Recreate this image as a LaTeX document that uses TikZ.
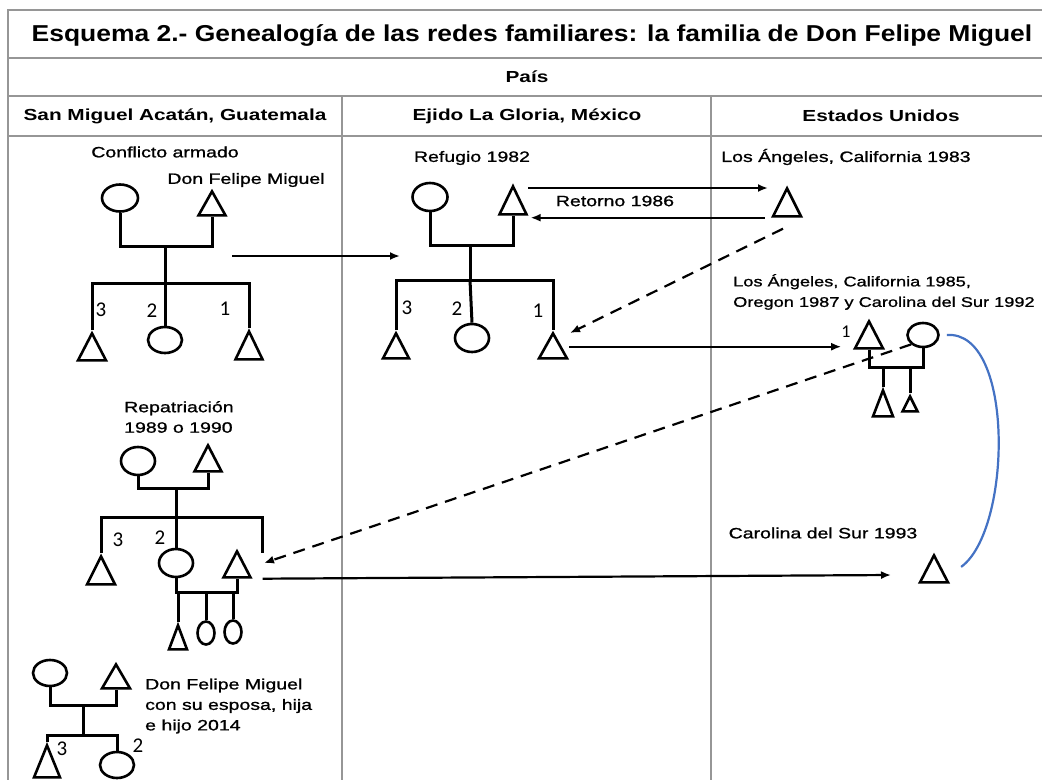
\documentclass[tikz,border=0pt]{standalone}
\usepackage{fontspec}
\setmainfont{Liberation Sans}
\newfontfamily\bodyfont{Liberation Sans}[FakeStretch=1.3, FakeBold=1]
\newfontfamily\headfont{Liberation Sans}[FakeStretch=1.3]
\newfontfamily\titlefont{Liberation Sans}[FakeStretch=1.15]
\newfontfamily\numfont{Carlito}
\usetikzlibrary{shapes.geometric,arrows.meta}
\definecolor{tablegray}{RGB}{150,150,150}
\definecolor{linkblue}{RGB}{68,114,196}

\begin{document}
\begin{tikzpicture}[x=1pt, y=-1pt,
    tabline/.style = {draw=tablegray, line width=1.6pt},
    fem/.style = {ellipse, draw, line width=2.6pt, inner sep=0pt},
    masc/.style = {isosceles triangle, isosceles triangle stretches,
                   shape border rotate=90, draw, line width=2.6pt,
                   inner sep=0pt, anchor=apex},
    kin/.style = {line width=3pt},
    txt/.style = {inner sep=0pt, text=black,
                  font=\bodyfont\fontsize{15}{20.5}\selectfont},
    head/.style = {inner sep=0pt, font=\headfont\bfseries\fontsize{16}{19}\selectfont},
    num/.style = {inner sep=0pt, font=\numfont\fontsize{21}{24}\selectfont},
    mov/.style = {-{Latex[length=10pt,width=8pt]}, line width=2.2pt},
    mig/.style = {mov, dash pattern=on 12pt off 8pt}]

  \useasboundingbox (0,0) rectangle (1042,780);
  \fill[white] (0,0) rectangle (1042,780);

  % table
  \draw[tabline] (1042,10) -- (8,10) -- (8,780);
  \draw[tabline] (8,58) -- (1042,58);
  \draw[tabline] (8,96) -- (1042,96);
  \draw[tabline] (8,136) -- (1042,136);
  \draw[tabline] (342,96) -- (342,780);
  \draw[tabline] (711,96) -- (711,780);

  \node[inner sep=0pt, font=\titlefont\bfseries\fontsize{23}{26}\selectfont] (title) at (532,35)
    {Esquema 2.- Genealogía de las redes familiares: la familia de Don Felipe Miguel};
  \node[head] (pais) at (527,77) {País};
  \node[head] (h-gt) at (175,116) {San Miguel Acatán, Guatemala};
  \node[head] (h-mx) at (527,116) {Ejido La Gloria, México};
  \node[head] (h-us) at (881,116) {Estados Unidos};

  % San Miguel Acatan, conflicto armado
  \node[txt] (t-conf) at (165,152) {Conflicto armado};
  \node[fem, minimum width=36, minimum height=27] (A-m) at (120,198) {};
  \node[masc, minimum width=27, minimum height=24] (A-f) at (212,188) {};
  \node[txt] (t-don) at (246,180) {Don Felipe Miguel};
  \node[masc, minimum width=28, minimum height=27] (A-3) at (92,330) {};
  \node[fem, minimum width=34, minimum height=26] (A-2) at (165,340) {};
  \node[masc, minimum width=27, minimum height=28] (A-1) at (249,328) {};
  \node[num] (A-n3) at (101,310) {3};
  \node[num] (A-n2) at (152,311) {2};
  \node[num] (A-n1) at (225,309) {1};
  \coordinate (A-c) at (165,246);
  \coordinate (A-k) at (165,283);
  \draw[kin] (A-m.south) |- (A-c) -| (A-f.lower side);
  \draw[kin] (A-c) -- (A-k);
  \draw[kin] (A-3.apex) |- (A-k) -| (A-1.apex);
  \draw[kin] (A-k) -- (A-2.north);

  % Ejido La Gloria, refugio
  \node[txt] (t-ref) at (472,158) {Refugio 1982};
  \node[fem, minimum width=35, minimum height=28] (B-m) at (430,197) {};
  \node[masc, minimum width=27, minimum height=28] (B-f) at (513,183) {};
  \node[masc, minimum width=26, minimum height=25] (B-3) at (396,330) {};
  \node[fem, minimum width=34, minimum height=28] (B-2) at (472,338) {};
  \node[masc, minimum width=28, minimum height=25] (B-1) at (553,330) {};
  \node[num] (B-n3) at (407,308) {3};
  \node[num] (B-n2) at (457,309) {2};
  \node[num] (B-n1) at (538,311) {1};
  \coordinate (B-c) at (470,245);
  \coordinate (B-k) at (470,280);
  \draw[kin] (B-m.south) |- (B-c) -| (B-f.lower side);
  \draw[kin] (B-c) -- (B-k);
  \draw[kin] (B-3.apex) |- (B-k) -| (B-1.apex);
  \draw[kin] (B-k) -- (B-2.north);

  % Estados Unidos
  \node[txt] (t-la83) at (846,157) {Los Ángeles, California 1983};
  \node[masc, minimum width=28, minimum height=28] (L-f) at (787,185) {};
  \node[txt] (t-ret) at (615,201) {Retorno 1986};
  \node[txt, anchor=west, align=left, font=\bodyfont\fontsize{14}{20.5}\selectfont] (t-la85) at (733,292)
    {Los Ángeles, California 1985,\\Oregon 1987 y Carolina del Sur 1992};
  \node[masc, minimum width=28, minimum height=27] (U-s) at (869,318) {};
  \node[num, font=\numfont\fontsize{18}{20}\selectfont] (U-n1) at (846,332) {1};
  \node[fem, minimum width=31, minimum height=24] (U-w) at (923,335) {};
  \node[masc, minimum width=20, minimum height=26] (U-c1) at (883,387) {};
  \node[masc, minimum width=15, minimum height=15] (U-c2) at (910,393) {};
  \coordinate (U-c) at (896,367);
  \draw[kin] (U-s.lower side) |- (U-c) -| (U-w.south);
  \draw[kin] (U-c1.apex) -- (U-c1.apex |- U-c);
  \draw[kin] (U-c2.apex) -- (U-c2.apex |- U-c);
  \node[txt] (t-cs93) at (823,533) {Carolina del Sur 1993};
  \node[masc, minimum width=28, minimum height=27] (K-f) at (934,552) {};
  \coordinate (K-in) at (891,575);

  % San Miguel Acatan, repatriacion
  \node[txt, anchor=west, align=left] (t-rep) at (124,417) {Repatriación\\1989 o 1990};
  \node[fem, minimum width=34, minimum height=28] (C-m) at (138,461) {};
  \node[masc, minimum width=27, minimum height=26] (C-f) at (208,442) {};
  \node[masc, minimum width=28, minimum height=28] (C-3) at (101,553) {};
  \node[fem, minimum width=34, minimum height=28] (C-2) at (176,563) {};
  \node[masc, minimum width=27, minimum height=26] (C-h) at (237,548) {};
  \node[num] (C-n3) at (118,540) {3};
  \node[num] (C-n2) at (160,538) {2};
  \coordinate (C-c) at (176,488);
  \coordinate (C-k) at (176,517);
  \coordinate (C-r) at (262,553);
  \draw[kin] (C-m.south) |- (C-c) -| (C-f.lower side);
  \draw[kin] (C-c) -- (C-k);
  \draw[kin] (C-3.apex) |- (C-k) -| (C-r);
  \draw[kin] (C-k) -- (C-2.north);
  \node[masc, minimum width=18, minimum height=24] (C-g1) at (178,622) {};
  \node[fem, minimum width=17, minimum height=23] (C-g2) at (206,633) {};
  \node[fem, minimum width=17, minimum height=23] (C-g3) at (233,632) {};
  \coordinate (C-g) at (206,592);
  \draw[kin] (C-2.south) |- (C-g) -| (C-h.lower side);
  \draw[kin] (C-g1.apex) -- (C-g1.apex |- C-g);
  \draw[kin] (C-g) -- (C-g2.north);
  \draw[kin] (C-g3.north) -- (C-g3.north |- C-g);

  % San Miguel Acatan, 2014
  \node[fem, minimum width=34, minimum height=26] (D-m) at (50,673) {};
  \node[masc, minimum width=28, minimum height=24] (D-f) at (116,661) {};
  \node[txt, anchor=west, align=left] (t-2014) at (145,706)
    {Don Felipe Miguel\\con su esposa, hija\\e hijo 2014};
  \node[masc, minimum width=26, minimum height=32] (D-3) at (47,742) {};
  \node[fem, minimum width=34, minimum height=26] (D-2) at (117,765) {};
  \node[num] (D-n3) at (62,749) {3};
  \node[num] (D-n2) at (138,746) {2};
  \coordinate (D-c) at (83,705);
  \coordinate (D-k) at (83,735);
  \draw[kin] (D-m.south) |- (D-c) -| (D-f.lower side);
  \draw[kin] (D-c) -- (D-k);
  \draw[kin] (D-3.apex) |- (D-k) -| (D-2.north);

  % movements
  \coordinate (A-out) at (232,256);
  \coordinate (B-in) at (400,256);
  \draw[mov] (A-out) -- (B-in);
  \draw[mov] ([shift={(15,5)}]B-f.apex) -- ([shift={(-19,3)}]L-f.apex);
  \draw[mov] ([xshift=-6pt]L-f.left corner) -- ([xshift=2pt]B-f.right corner |- L-f.left corner);
  \draw[mig] ([shift={(-4,11)}]L-f.lower side) -- ([shift={(17,3)}]B-1.apex);
  \draw[mov] ([yshift=13pt]B-1.right corner) -- ([yshift=13pt]B-1.right corner -| U-n1.west);
  \draw[mig] (U-w.south west) -- ([shift={(2,10)}]C-r);
  \draw[mov] ([xshift=10pt]C-h.right corner) -- (K-in);
  \draw[linkblue, line width=2.2pt] ([xshift=7pt]U-w.east)
    .. controls (1015,330) and (1012,530) .. ([shift={(16,-7)}]K-f.east);

\end{tikzpicture}
\end{document}
